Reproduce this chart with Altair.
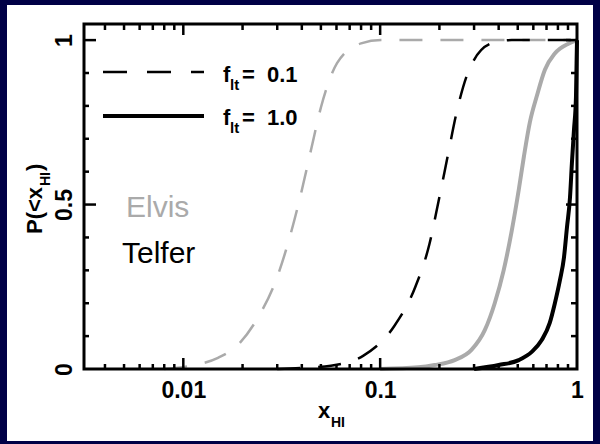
import altair as alt
import pandas as pd

# ---- data ----
elvis_f01_x = [0.008, 0.0109, 0.0149, 0.0189, 0.0236, 0.0298, 0.0347, 0.0395, 0.0445, 0.050, 0.0604, 0.080, 0.101, 1.0]
elvis_f01_y = [0.0, 0.01, 0.033, 0.073, 0.15, 0.275, 0.40, 0.53, 0.665, 0.795, 0.93, 0.99, 1.0, 1.0]

telfer_f01_x = [0.03, 0.0395, 0.0562, 0.0819, 0.1178, 0.151, 0.178, 0.198, 0.220, 0.2445, 0.281, 0.368, 0.466, 1.0]
telfer_f01_y = [0.0, 0.003, 0.01, 0.04, 0.13, 0.25, 0.38, 0.51, 0.645, 0.78, 0.905, 0.99, 1.0, 1.0]

elvis_f10_x = [0.1, 0.156, 0.189, 0.239, 0.291, 0.340, 0.382, 0.424, 0.466, 0.506, 0.537, 0.576, 0.625, 0.687, 0.773, 0.910, 1.0]
elvis_f10_y = [0.0, 0.005, 0.012, 0.027, 0.058, 0.118, 0.20, 0.30, 0.42, 0.545, 0.645, 0.75, 0.83, 0.91, 0.96, 0.99, 1.0]

telfer_f10_x = [0.3, 0.400, 0.506, 0.589, 0.662, 0.727, 0.772, 0.819, 0.859, 0.889, 0.921, 0.942, 0.965, 0.988, 0.995, 1.0]
telfer_f10_y = [0.0, 0.012, 0.027, 0.052, 0.088, 0.14, 0.20, 0.27, 0.34, 0.43, 0.52, 0.625, 0.726, 0.827, 0.93, 1.0]

x_tick_labels = [0.01, 0.1, 1]
y_tick_labels = [0, 0.5, 1]
x_minor = [0.004, 0.005, 0.006, 0.007, 0.008, 0.009,
           0.02, 0.03, 0.04, 0.05, 0.06, 0.07, 0.08, 0.09,
           0.2, 0.3, 0.4, 0.5, 0.6, 0.7, 0.8, 0.9]
x_major = [0.01, 0.1]
y_minor = [0.1, 0.2, 0.3, 0.4, 0.6, 0.7, 0.8, 0.9]
y_major = [0.5, 1.0]

W, H = 493, 345
NAVY = "#000046"
GRAY = "#aaaaaa"
FONT = "Liberation Sans"

xscale = alt.Scale(type="log", domain=[0.00313, 1.0])
yscale = alt.Scale(domain=[0, 1.049])

dummy = pd.DataFrame({"a": [0]})

# white panel behind everything
panel = alt.Chart(dummy).mark_rect(color="white").encode(
    x=alt.value(-77), x2=alt.value(509), y=alt.value(-19), y2=alt.value(417))


def curve(xs, ys, color, dashed, width, main=False):
    df = pd.DataFrame({"x": xs, "y": ys})
    kw = dict(color=color, strokeWidth=width, interpolate="monotone")
    if dashed:
        kw["strokeDash"] = [23, 18]
    if main:
        xax = alt.Axis(values=x_tick_labels, format="~g", ticks=False, domain=False, grid=False,
                       labelFontSize=23, labelFont=FONT, labelFontWeight="bold", labelColor="black",
                       labelPadding=10, labelFlush=False, labelOverlap=False, title=None, zindex=2)
        yax = alt.Axis(values=y_tick_labels, format="~g", ticks=False, domain=False, grid=False,
                       labelFontSize=23, labelFont=FONT, labelFontWeight="bold", labelColor="black",
                       labelPadding=13, labelAngle=270, labelAlign="center", labelBaseline="alphabetic",
                       labelFlush=False, labelOverlap=False, title=None, zindex=2)
    else:
        xax = None
        yax = None
    return alt.Chart(df).mark_line(**kw).encode(
        x=alt.X("x:Q", scale=xscale, axis=xax),
        y=alt.Y("y:Q", scale=yscale, axis=yax))


def xticks(vals, y0, y1):
    return alt.Chart(pd.DataFrame({"t": vals})).mark_rule(color="black", strokeWidth=2.5).encode(
        x=alt.X("t:Q", scale=xscale, axis=None), y=alt.value(y0), y2=alt.value(y1))


def yticks(vals, x0, x1):
    return alt.Chart(pd.DataFrame({"t": vals})).mark_rule(color="black", strokeWidth=2.5).encode(
        y=alt.Y("t:Q", scale=yscale, axis=None), x=alt.value(x0), x2=alt.value(x1))


def txt(s, x, y, size, color="black", angle=0, weight="bold"):
    return alt.Chart(dummy).mark_text(text=s, font=FONT, fontSize=size, color=color, fontWeight=weight,
                                      align="left", baseline="alphabetic", angle=angle).encode(
        x=alt.value(x), y=alt.value(y))


layers = [
    panel,
    curve(elvis_f01_x, elvis_f01_y, GRAY, True, 2.5, main=True),
    curve(elvis_f10_x, elvis_f10_y, GRAY, False, 4),
    curve(telfer_f01_x, telfer_f01_y, "black", True, 2.5),
    curve(telfer_f10_x, telfer_f10_y, "black", False, 4),
    # ticks (inward on all four sides)
    xticks(x_minor, H, H - 5), xticks(x_major, H, H - 11),
    xticks(x_minor, 0, 6), xticks(x_major, 0, 11),
    yticks(y_minor, 0, 5), yticks(y_major, 0, 12),
    yticks(y_minor, W, W - 6), yticks(y_major, W, W - 11),
    # frame
    alt.Chart(dummy).mark_rect(fill=None, stroke="black", strokeWidth=3).encode(
        x=alt.value(0), x2=alt.value(W), y=alt.value(0), y2=alt.value(H)),
    # legend
    alt.Chart(dummy).mark_rule(color="black", strokeWidth=2.5, strokeDash=[24, 20]).encode(
        x=alt.value(19), x2=alt.value(120), y=alt.value(48)),
    alt.Chart(dummy).mark_rule(color="black", strokeWidth=4).encode(
        x=alt.value(19), x2=alt.value(120), y=alt.value(92)),
    txt("f", 139, 58, 22), txt("lt", 146, 66, 15), txt("=", 158, 58, 22), txt("0.1", 183, 58, 22),
    txt("f", 139, 101, 22), txt("lt", 146, 109, 15), txt("=", 158, 101, 22), txt("1.0", 183, 101, 22),
    # labels
    txt("Elvis", 42, 193, 30, GRAY, weight="normal"),
    txt("Telfer", 38, 239, 30, weight="normal"),
    # axis titles
    txt("x", 234, 394, 22), txt("HI", 247, 403, 14),
    txt("P(<x", -42, 210, 22, angle=270), txt("HI", -34, 162, 14, angle=270), txt(")", -42, 147, 22, angle=270),
]

chart = alt.layer(*layers).resolve_axis(x="independent", y="independent").properties(
    width=W, height=H,
    padding={"left": 84, "top": 24, "right": 23, "bottom": 75},
    autosize=alt.AutoSizeParams(type="none"),
    background=NAVY,
).configure_view(stroke=None, fill="white")

chart.save("out.html", embed_options={"renderer": "svg", "actions": False})
